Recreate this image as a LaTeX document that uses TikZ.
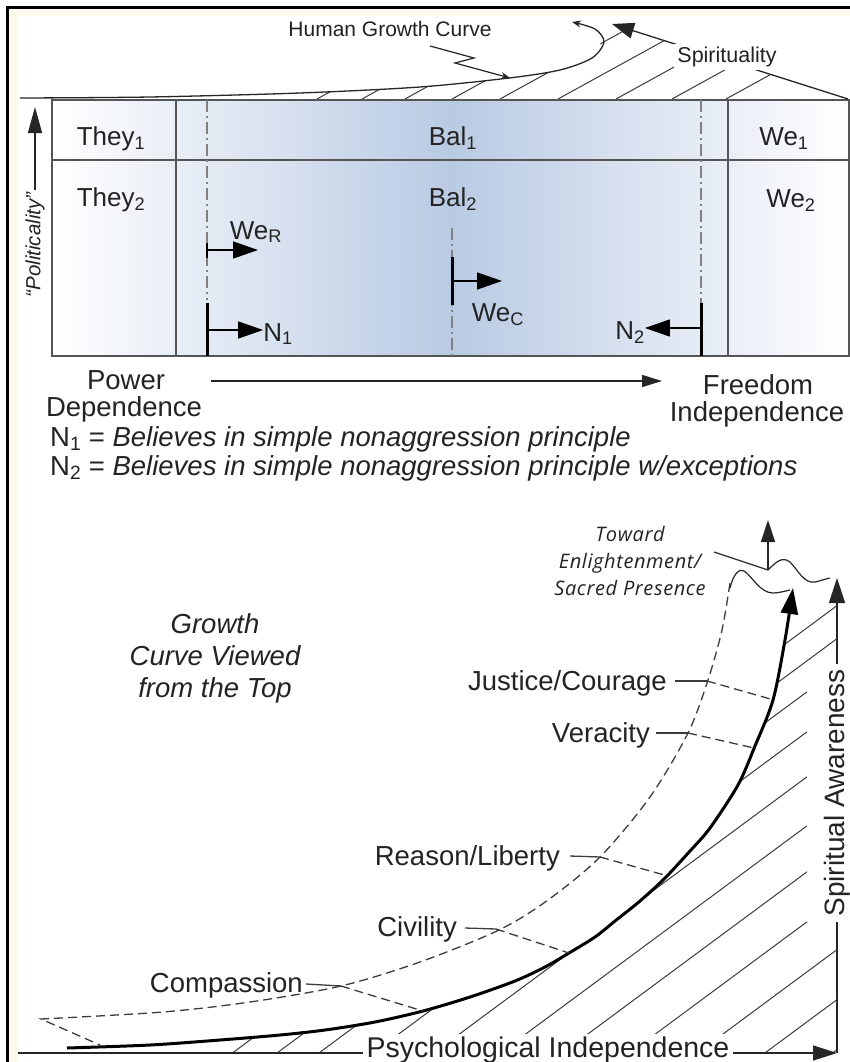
\documentclass[tikz,border=0pt]{standalone}
\usepackage{fontspec}
\setmainfont{Liberation Sans}
\newfontfamily\enlfont[LetterSpace=3]{Open Sans}
\usetikzlibrary{arrows.meta,calc}
\definecolor{cream}{RGB}{255,250,238}
\definecolor{bluepk}{RGB}{185,202,227}
\definecolor{boxline}{RGB}{85,85,85}
\definecolor{txt}{RGB}{35,35,35}
\definecolor{hatchc}{RGB}{60,60,60}
\begin{document}
\begin{tikzpicture}[x=1pt,y=-1pt,
  lbl/.style={font=\fontsize{26}{30}\selectfont, text=txt, inner sep=0pt},
  blbl/.style={font=\fontsize{27.5}{31}\selectfont, text=txt, inner sep=0pt},
  smlbl/.style={font=\fontsize{21}{24}\selectfont, text=txt, inner sep=0pt},
  hatchline/.style={draw=hatchc, line width=1pt},
  boxl/.style={draw=boxline, line width=1.5pt},
  dashdot/.style={draw=gray, line width=1.3pt, dash pattern=on 12pt off 4pt on 2pt off 4pt},
  bar/.style={draw=black, line width=3pt},
  harrow/.style={draw=black, line width=1.5pt, -{Triangle[length=25pt,width=17pt]}},
  dashl/.style={draw=hatchc, line width=1.3pt, dash pattern=on 9pt off 5pt},
  leader/.style={draw=hatchc, line width=1.3pt},
  axisarr/.style={draw=black!85, line width=1.3pt, -{Triangle[length=24pt,width=15pt]}}
]
\useasboundingbox (0,0) rectangle (850,1062);
% frame
\fill[cream] (8,8) rectangle (850,1062);
\fill[white] (17,16) rectangle (850,1062);
\draw[line width=3pt] (7.5,1062) -- (7.5,7.5) -- (850,7.5);

% ---------- upper box ----------
\shade[left color=white, right color=bluepk] (52,100) rectangle (452,356);
\shade[left color=bluepk, right color=white] (452,100) rectangle (849,356);

% spirituality hatch
\begin{scope}
\clip (300,100) -- plot[smooth] coordinates {(300,93) (420,87) (509,78) (560,70) (592,58)} -- (612,24) -- (848,99) -- cycle;
\foreach \s in {317,362,405,452,500,558,616,672,726}
  \draw[hatchline] (\s,99) -- ++(140,-77);
\end{scope}

\draw[boxl] (52,100) rectangle (849,356);
\draw[boxl] (52,160) -- (849,160);
\draw[boxl] (176,100) -- (176,356);
\draw[boxl] (728,100) -- (728,356);

% growth curve (side view)
\draw[black!85, line width=1.3pt, -{Stealth[length=9pt,width=7pt]}]
  plot[smooth] coordinates {(20,98) (150,97) (300,93) (420,87) (509,78) (560,70) (592,58) (604,42) (595,29) (572,22)};
\node[smlbl] (hgc) at (390,29) {Human Growth Curve};
\coordinate (hgcA) at (430,46);
\draw[black!85, line width=1.2pt, -{Stealth[length=9pt,width=7pt]}]
  (hgcA) -- (474,58) -- (455,63) -- (510,78);

% spirituality line
\coordinate (spA) at (848,99);
\coordinate (spB) at (612,24);
\draw[black!85, line width=1.3pt, -{Triangle[length=22pt,width=16pt]}] (spA) -- (spB);
\node[smlbl, font=\fontsize{21.5}{24}\selectfont, fill=white, inner sep=3pt] (spir) at (727,57) {Spirituality};

% politicality
\coordinate (polB) at (35,190);
\coordinate (polT) at (35,107);
\draw[black!85, line width=1.3pt, -{Triangle[length=26pt,width=14pt]}] (polB) -- (polT);
\node[smlbl, font=\fontsize{20.5}{24}\selectfont\itshape, rotate=90] (pol) at (35,245) {“Politicality”};

% dash-dot lines and bars
\draw[dashdot] (207,100) -- (207,300);
\draw[dashdot] (701,100) -- (701,303);
\draw[dashdot] (452,228) -- (452,356);
\coordinate (wrb) at (207,250);
\coordinate (n1b) at (207,330);
\coordinate (wcb) at (452,281);
\coordinate (n2b) at (701,328);
\draw[line width=2.2pt] (207,243) -- (207,258);
\draw[bar] (207,303) -- (207,356);
\draw[bar] (452,257) -- (452,305);
\draw[bar] (701,303) -- (701,356);

\node[lbl, anchor=base] (they1) at (111,146) {They\textsubscript{1}};
\node[lbl, anchor=base] (they2) at (111,206) {They\textsubscript{2}};
\node[lbl, anchor=base] (bal1) at (453,146) {Bal\textsubscript{1}};
\node[lbl, anchor=base] (bal2) at (453,206) {Bal\textsubscript{2}};
\node[lbl, anchor=base] (we1) at (784,146) {We\textsubscript{1}};
\node[lbl, anchor=base] (we2) at (791,207) {We\textsubscript{2}};
\node[lbl, anchor=base] (wer) at (256,239) {We\textsubscript{R}};
\node[lbl, anchor=base] (n1) at (278,341) {N\textsubscript{1}};
\node[lbl, anchor=base] (wec) at (498,321) {We\textsubscript{C}};
\node[lbl, anchor=base] (n2) at (630,339) {N\textsubscript{2}};
\draw[harrow] (wrb) -- (258,250);
\draw[harrow] (n1b) -- (n1.west |- n1b);
\draw[harrow] (wcb) -- (502,281);
\draw[harrow] (n2b) -- (n2.east |- n2b);

% power / freedom
\node[blbl, anchor=base] (power) at (126,389) {Power};
\node[blbl, anchor=base] (dep) at (124,416) {Dependence};
\node[blbl, anchor=base] (free) at (758,394) {Freedom};
\node[blbl, anchor=base] (indep) at (757,421) {Independence};
\coordinate (pfA) at (211,381);
\coordinate (pfB) at (662,381);
\draw[black!85, line width=1.5pt, -{Triangle[length=20pt,width=12pt]}] (pfA) -- (pfB);

\node[lbl, font=\fontsize{27.5}{30}\selectfont, anchor=base west] (n1def) at (50,446) {N\textsubscript{1} = \textit{Believes in simple nonaggression principle}};
\node[lbl, font=\fontsize{27.5}{30}\selectfont, anchor=base west] (n2def) at (50,475) {N\textsubscript{2} = \textit{Believes in simple nonaggression principle w/exceptions}};

% ---------- lower diagram ----------
\node[blbl, font=\fontsize{27.5}{32}\selectfont\itshape, align=center] (gcv) at (215,658) {Growth\\Curve Viewed\\from the Top};

% hatch
\begin{scope}
\clip plot[smooth] coordinates {(67,1048) (150,1045) (220,1040) (280,1035) (325,1030) (375,1022) (423,1011) (470,997) (515,981) (545,967) (569,953) (595,937) (615,921) (640,901) (665,878) (690,851) (710,828) (738,785) (755,746) (773,700) (785,640) (793,600)} -- (837,596) -- (837,1053) -- (67,1053) -- cycle;
\foreach \c in {1225,1258,1289,1329,1374,1423,1469,1519,1569,1619,1669}
  \draw[hatchline] ({(\c-1053)/0.74},1053) -- (837,{\c-0.74*837});
\end{scope}

% dashed curve
\draw[dashl] plot[smooth] coordinates {(730,583) (722,630) (708,680) (688,733) (650,797) (600,857) (548,900) (499,930) (420,962) (341,986) (250,1002) (163,1012) (41,1019)} -- (100,1045);

% thick growth curve
\draw[black, line width=3pt, -{Triangle[length=26pt,width=17pt]}]
  plot[smooth] coordinates {(67,1048) (150,1045) (220,1040) (280,1035) (325,1030) (375,1022) (423,1011) (470,997) (515,981) (545,967) (569,953) (595,937) (615,921) (640,901) (665,878) (690,851) (710,828) (738,785) (755,746) (773,700) (785,640) (793,588)};

% labels and cross lines
\node[blbl, anchor=base east] (jus) at (667,690) {Justice/Courage};
\node[blbl, anchor=base east] (ver) at (650,742) {Veracity};
\node[blbl, anchor=base east] (rea) at (560,865) {Reason/Liberty};
\node[blbl, anchor=base east] (civ) at (457,936) {Civility};
\node[blbl, anchor=base east] (com) at (303,992) {Compassion};
\coordinate (jusA) at (707,681);
\coordinate (verA) at (688,733);
\coordinate (reaA) at (600,857);
\coordinate (civA) at (496,929);
\coordinate (comA) at (341,986);
\draw[leader] (675,681) -- (jusA);
\draw[leader] (656,733) -- (verA);
\draw[leader] (570,856) -- (reaA);
\draw[leader] (465,928) -- (civA);
\draw[leader] (306,984) -- (comA);
\draw[dashl] (jusA) -- (774,700);
\draw[dashl] (verA) -- (754,748);
\draw[dashl] (reaA) -- (668,876);
\draw[dashl] (civA) -- (569,953);
\draw[dashl] (comA) -- (423,1011);

% axes
\coordinate (orig) at (18,1053);
\coordinate (xend) at (837,1053);
\coordinate (yend) at (837,578);
\draw[axisarr] (orig) -- (xend);
\draw[axisarr, -{Triangle[length=25pt,width=16pt]}] (xend) -- (yend);
\node[blbl, font=\fontsize{28.5}{31}\selectfont, fill=white, inner xsep=4pt, inner ysep=3pt] (psy) at (548,1050) {Psychological Independence};
\node[blbl, font=\fontsize{28}{31}\selectfont, fill=white, rotate=90, inner xsep=6pt, inner ysep=17pt] (spa) at (837,793) {Spiritual Awareness};

% enlightenment
\node[text=txt, font=\enlfont\itshape\fontsize{20}{27}\selectfont, align=center, inner sep=0pt] (enl) at (630,561) {Toward\\Enlightenment/\\Sacred Presence};
\draw[black!85, line width=1.2pt] (714,552) -- (768,570) .. controls (776,562) and (782,556) .. (790,562) .. controls (798,570) and (804,584) .. (815,582) .. controls (820,581) and (825,579) .. (830,578);
\draw[black!85, line width=1.2pt] (730,588) .. controls (733,576) and (738,568) .. (744,571) .. controls (752,576) and (760,593) .. (773,593) .. controls (779,593) and (785,591) .. (790,590);
\coordinate (upA) at (768,570);
\coordinate (upB) at (768,520);
\draw[black!85, line width=1.3pt, -{Triangle[length=22pt,width=14pt]}] (upA) -- (upB);
\end{tikzpicture}
\end{document}
